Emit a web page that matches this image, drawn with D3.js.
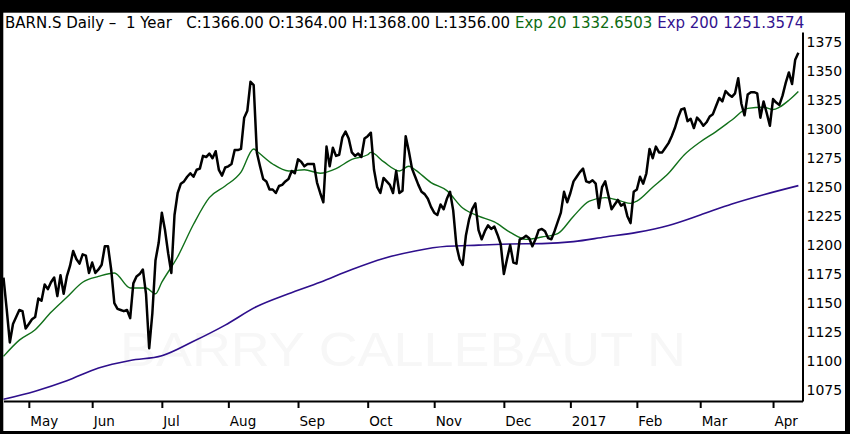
<!DOCTYPE html>
<html>
<head>
<meta charset="utf-8">
<script src="https://cdn.jsdelivr.net/npm/d3@7"></script>
<style>
    html, body { margin: 0; padding: 0; background: #000; }
    svg { display: block; }
    .axis text { font-family: "DejaVu Sans", Verdana, sans-serif; fill: #000; }
</style>
</head>
<body>
<svg id="chart" width="850" height="434"></svg>
<script>
'use strict';

// Daily closes, one per trading day (Apr 2016 - Apr 2017).
var closes = [
    1172, 1145, 1116, 1132, 1138, 1144, 1143, 1128, 1132, 1136,
    1138, 1154, 1152, 1166, 1162, 1168, 1172, 1156, 1174, 1158,
    1173, 1182, 1195, 1188, 1184, 1192, 1191, 1176, 1185, 1176,
    1179, 1183, 1199, 1199, 1179, 1150, 1145, 1144, 1143, 1144,
    1137, 1167, 1173, 1175, 1179, 1158, 1111, 1141, 1187, 1202,
    1228, 1213, 1193, 1176, 1226, 1245, 1253, 1255, 1259, 1262,
    1259, 1265, 1266, 1277, 1276, 1279, 1275, 1281, 1265, 1260,
    1267, 1268, 1270, 1282, 1282, 1283, 1310, 1316, 1341, 1338,
    1280, 1268, 1257, 1255, 1248, 1248, 1245, 1251, 1252, 1255,
    1257, 1264, 1262, 1274, 1272, 1268, 1270, 1270, 1270, 1254,
    1245, 1237, 1285, 1268, 1284, 1277, 1278, 1293, 1298, 1292,
    1280, 1277, 1279, 1276, 1292, 1294, 1297, 1265, 1250, 1245,
    1258, 1255, 1252, 1245, 1264, 1245, 1247, 1294, 1281, 1266,
    1259, 1252, 1246, 1244, 1240, 1233, 1228, 1226, 1235, 1231,
    1240, 1246, 1230, 1200, 1188, 1183, 1208, 1222, 1231, 1236,
    1213, 1205, 1212, 1217, 1214, 1216, 1209, 1201, 1175, 1188,
    1200, 1185, 1184, 1205, 1206, 1208, 1206, 1199, 1205, 1213,
    1214, 1212, 1206, 1205, 1212, 1220, 1228, 1246, 1237, 1245,
    1255, 1259, 1263, 1266, 1255, 1254, 1256, 1253, 1232, 1250,
    1255, 1243, 1231, 1235, 1239, 1234, 1236, 1225, 1219, 1246,
    1248, 1259, 1253, 1262, 1283, 1275, 1285, 1280, 1280, 1284,
    1288, 1294, 1301, 1310, 1317, 1318, 1307, 1309, 1301, 1310,
    1307, 1303, 1306, 1311, 1313, 1320, 1327, 1324, 1333, 1330,
    1328, 1331, 1344, 1322, 1312, 1330, 1332, 1332, 1331, 1310,
    1324, 1314, 1303, 1326, 1323, 1321, 1329, 1340, 1349, 1339,
    1360, 1366
];

var ema20Days = [0, 5, 10, 15, 20, 25, 30, 35, 40, 45, 48, 50, 55, 60, 65, 70, 75, 79, 80,
    85, 90, 95, 100, 105, 110, 115, 116, 120, 125, 128, 130, 135, 140, 145, 150, 155, 160,
    165, 170, 175, 180, 185, 190, 195, 198, 200, 205, 210, 215, 220, 225, 230, 235, 240,
    243, 245, 248, 251];
var ema20Values = [1104, 1118, 1127, 1142, 1155, 1168, 1173, 1176, 1163, 1163, 1158, 1168,
    1190, 1218, 1241, 1251, 1263, 1283, 1281, 1270, 1264, 1265, 1262, 1266, 1274, 1278,
    1280, 1272, 1264, 1268, 1265, 1254, 1247, 1232, 1225, 1220, 1211, 1205, 1207, 1210,
    1225, 1238, 1241, 1238, 1236, 1238, 1250, 1262, 1278, 1289, 1298, 1308, 1318, 1319,
    1317, 1319, 1325, 1332.65];

var ema200Days = [0, 10, 20, 30, 40, 50, 60, 70, 80, 90, 100, 110, 120, 130, 140, 150, 160,
    170, 180, 190, 200, 210, 220, 230, 240, 251];
var ema200Values = [1067, 1074, 1083, 1094, 1100.5, 1104.5, 1117, 1131, 1147, 1158, 1168,
    1179, 1188.5, 1195, 1199, 1200, 1201, 1201.3, 1203, 1207, 1211, 1217, 1226, 1235.5,
    1243.5, 1251.36];

// First trading day of each month.
var monthLabels = ['May', 'Jun', 'Jul', 'Aug', 'Sep', 'Oct', 'Nov', 'Dec', '2017', 'Feb', 'Mar', 'Apr'];
var monthDays = [8, 28, 50, 71, 93, 115, 136, 158, 179, 200, 220, 243];

var priceTicks = [1075, 1100, 1125, 1150, 1175, 1200, 1225, 1250, 1275, 1300, 1325, 1350, 1375];

var titleParts = [
    {text: 'BARN.S Daily \u2013  1 Year   C:1366.00 O:1364.00 H:1368.00 L:1356.00 ', colour: '#000'},
    {text: 'Exp 20 1332.6503 ', colour: '#0d6b12'},
    {text: 'Exp 200 1251.3574', colour: '#33138f'}
];

var svg = d3.select('#chart');
var plot = {left: 3.5, right: 802.5, top: 32, bottom: 401};

// Outer black frame with a white face.
svg.append('rect')
    .attr('width', 850).attr('height', 434).attr('fill', '#000');
svg.append('rect')
    .attr('x', 3.3).attr('y', 12.7)
    .attr('width', 845 - 3.3).attr('height', 431 - 12.7)
    .attr('fill', '#fff');

// Faint watermark.
svg.append('text')
    .text('BARRY CALLEBAUT N')
    .attr('x', 120).attr('y', 366)
    .attr('textLength', 566)
    .attr('lengthAdjust', 'spacingAndGlyphs')
    .style('font-family', '"Liberation Sans", Arial, sans-serif')
    .style('font-size', '49px')
    .style('fill', '#f7f7f7');

var x = d3.scaleLinear()
    .domain([0, 252.3])
    .range([plot.left, plot.right]);

var y = d3.scaleLinear()
    .domain([1065.5, 1383.9])
    .range([plot.bottom, plot.top]);

// Title line, shrunk or grown to span the plot width.
var title = svg.append('text')
    .attr('x', 5).attr('y', 28)
    .style('font-family', '"DejaVu Sans", Verdana, sans-serif')
    .style('font-size', '13px')
    .style('white-space', 'pre');

title.selectAll('tspan')
    .data(titleParts)
    .enter()
    .append('tspan')
        .text(function(d) {return d.text;})
        .style('fill', function(d) {return d.colour;});

var titleWidth = title.node().getComputedTextLength();
title.style('font-size', (13 * 800 / titleWidth) + 'px');

// Lines.
var closeLine = d3.line()
    .x(function(d, i) {return x(i);})
    .y(function(d) {return y(d);});

var emaLine = d3.line()
    .curve(d3.curveMonotoneX)
    .x(function(d) {return x(d[0]);})
    .y(function(d) {return y(d[1]);});

svg.append('path')
    .datum(d3.zip(ema200Days, ema200Values))
    .attr('d', emaLine)
    .attr('fill', 'none')
    .attr('stroke', '#2e0f8c')
    .attr('stroke-width', 1.6);

svg.append('path')
    .datum(d3.zip(ema20Days, ema20Values))
    .attr('d', emaLine)
    .attr('fill', 'none')
    .attr('stroke', '#11701a')
    .attr('stroke-width', 1.4);

svg.append('path')
    .datum(closes)
    .attr('d', closeLine)
    .attr('fill', 'none')
    .attr('stroke', '#000')
    .attr('stroke-width', 2.5)
    .attr('stroke-linejoin', 'round');

// Price axis on the right.
var yAxis = svg.append('g')
    .attr('class', 'axis')
    .attr('transform', 'translate(' + plot.right + ',0)')
    .call(d3.axisRight(y)
        .tickValues(priceTicks)
        .tickFormat(d3.format('d'))
        .tickSize(0)
        .tickSizeOuter(0)
        .tickPadding(4));

yAxis.select('.domain').attr('stroke-width', 2);
yAxis.selectAll('text').style('font-size', '14px');

// Month axis along the bottom, labels sit just right of each tick.
var xAxis = svg.append('g')
    .attr('class', 'axis')
    .attr('transform', 'translate(0,' + plot.bottom + ')')
    .call(d3.axisBottom(x)
        .tickValues(monthDays)
        .tickFormat(function(d, i) {return monthLabels[i];})
        .tickSize(7)
        .tickSizeOuter(0)
        .tickPadding(8));

xAxis.select('.domain').attr('stroke-width', 2);
xAxis.selectAll('.tick line').attr('stroke-width', 2);
xAxis.selectAll('text')
    .attr('text-anchor', 'start')
    .attr('x', 1)
    .style('font-size', '13.5px');
</script>
</body>
</html>
